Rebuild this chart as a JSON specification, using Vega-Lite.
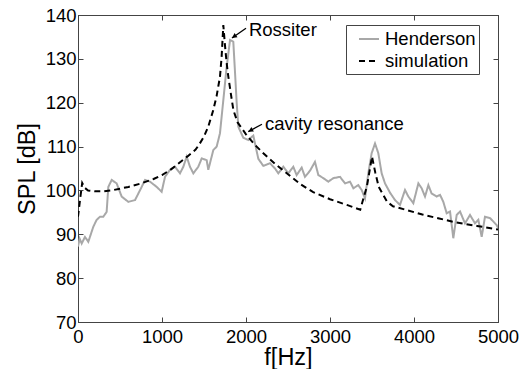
{
  "$schema": "https://vega.github.io/schema/vega-lite/v6.json",
  "width": 420,
  "height": 307,
  "autosize": "none",
  "padding": {"left": 78, "top": 15, "right": 28, "bottom": 47},
  "background": "white",
  "config": {
    "font": "Liberation Sans",
    "view": {"stroke": "#444", "strokeWidth": 1},
    "axis": {
      "grid": false,
      "domainColor": "#444",
      "tickColor": "#444",
      "tickSize": -5,
      "labelFont": "Liberation Sans",
      "labelFontSize": 18.5,
      "labelColor": "black",
      "titleFont": "Liberation Sans",
      "titleFontSize": 23.5,
      "titleFontWeight": "normal",
      "titleColor": "black"
    },
    "legend": {
      "title": null,
      "orient": "none",
      "legendX": 268,
      "legendY": 10,
      "strokeColor": "#444",
      "fillColor": "white",
      "padding": 3,
      "symbolType": "stroke",
      "symbolSize": 400,
      "symbolStrokeWidth": 2,
      "symbolOffset": 9,
      "labelFontSize": 18.5,
      "labelFont": "Liberation Sans",
      "labelColor": "black",
      "labelOffset": 5,
      "rowPadding": 1
    }
  },
  "layer": [
    {
      "data": {
        "values": [
          {"f": 0, "v": 87.2, "s": "Henderson"},
          {"f": 20, "v": 89, "s": "Henderson"},
          {"f": 44, "v": 87.9, "s": "Henderson"},
          {"f": 83, "v": 89.4, "s": "Henderson"},
          {"f": 123, "v": 88.3, "s": "Henderson"},
          {"f": 182, "v": 91.7, "s": "Henderson"},
          {"f": 222, "v": 93.3, "s": "Henderson"},
          {"f": 262, "v": 94, "s": "Henderson"},
          {"f": 301, "v": 94, "s": "Henderson"},
          {"f": 341, "v": 95.1, "s": "Henderson"},
          {"f": 361, "v": 100.8, "s": "Henderson"},
          {"f": 401, "v": 102.4, "s": "Henderson"},
          {"f": 460, "v": 101.6, "s": "Henderson"},
          {"f": 520, "v": 98.6, "s": "Henderson"},
          {"f": 599, "v": 97.4, "s": "Henderson"},
          {"f": 679, "v": 97.8, "s": "Henderson"},
          {"f": 758, "v": 100.8, "s": "Henderson"},
          {"f": 798, "v": 102.4, "s": "Henderson"},
          {"f": 857, "v": 102, "s": "Henderson"},
          {"f": 937, "v": 100.8, "s": "Henderson"},
          {"f": 996, "v": 99.7, "s": "Henderson"},
          {"f": 1036, "v": 103.1, "s": "Henderson"},
          {"f": 1095, "v": 104.7, "s": "Henderson"},
          {"f": 1155, "v": 105.4, "s": "Henderson"},
          {"f": 1214, "v": 103.9, "s": "Henderson"},
          {"f": 1254, "v": 105.4, "s": "Henderson"},
          {"f": 1294, "v": 107.7, "s": "Henderson"},
          {"f": 1333, "v": 105.4, "s": "Henderson"},
          {"f": 1373, "v": 103.9, "s": "Henderson"},
          {"f": 1432, "v": 105.4, "s": "Henderson"},
          {"f": 1473, "v": 107.3, "s": "Henderson"},
          {"f": 1532, "v": 106.9, "s": "Henderson"},
          {"f": 1551, "v": 104.7, "s": "Henderson"},
          {"f": 1591, "v": 107.7, "s": "Henderson"},
          {"f": 1611, "v": 109.2, "s": "Henderson"},
          {"f": 1651, "v": 110, "s": "Henderson"},
          {"f": 1690, "v": 113, "s": "Henderson"},
          {"f": 1730, "v": 120.6, "s": "Henderson"},
          {"f": 1770, "v": 128.2, "s": "Henderson"},
          {"f": 1810, "v": 134.3, "s": "Henderson"},
          {"f": 1849, "v": 133.9, "s": "Henderson"},
          {"f": 1869, "v": 127, "s": "Henderson"},
          {"f": 1889, "v": 120, "s": "Henderson"},
          {"f": 1909, "v": 114.5, "s": "Henderson"},
          {"f": 1968, "v": 112, "s": "Henderson"},
          {"f": 2028, "v": 111.5, "s": "Henderson"},
          {"f": 2087, "v": 112.5, "s": "Henderson"},
          {"f": 2147, "v": 107.2, "s": "Henderson"},
          {"f": 2206, "v": 105.6, "s": "Henderson"},
          {"f": 2286, "v": 106.2, "s": "Henderson"},
          {"f": 2345, "v": 105, "s": "Henderson"},
          {"f": 2385, "v": 103.9, "s": "Henderson"},
          {"f": 2444, "v": 105.4, "s": "Henderson"},
          {"f": 2504, "v": 103.9, "s": "Henderson"},
          {"f": 2563, "v": 105.4, "s": "Henderson"},
          {"f": 2603, "v": 103.5, "s": "Henderson"},
          {"f": 2663, "v": 105.2, "s": "Henderson"},
          {"f": 2702, "v": 103.1, "s": "Henderson"},
          {"f": 2762, "v": 104.5, "s": "Henderson"},
          {"f": 2821, "v": 106.5, "s": "Henderson"},
          {"f": 2861, "v": 103.5, "s": "Henderson"},
          {"f": 2921, "v": 102.8, "s": "Henderson"},
          {"f": 2980, "v": 102, "s": "Henderson"},
          {"f": 3040, "v": 102.8, "s": "Henderson"},
          {"f": 3119, "v": 103.1, "s": "Henderson"},
          {"f": 3179, "v": 101.6, "s": "Henderson"},
          {"f": 3238, "v": 102, "s": "Henderson"},
          {"f": 3278, "v": 100.5, "s": "Henderson"},
          {"f": 3337, "v": 101.2, "s": "Henderson"},
          {"f": 3377, "v": 100.1, "s": "Henderson"},
          {"f": 3417, "v": 98.2, "s": "Henderson"},
          {"f": 3456, "v": 103.9, "s": "Henderson"},
          {"f": 3496, "v": 108.5, "s": "Henderson"},
          {"f": 3536, "v": 110.7, "s": "Henderson"},
          {"f": 3575, "v": 108.5, "s": "Henderson"},
          {"f": 3615, "v": 103.9, "s": "Henderson"},
          {"f": 3655, "v": 101.6, "s": "Henderson"},
          {"f": 3714, "v": 99.5, "s": "Henderson"},
          {"f": 3774, "v": 97.8, "s": "Henderson"},
          {"f": 3833, "v": 96.7, "s": "Henderson"},
          {"f": 3893, "v": 100.1, "s": "Henderson"},
          {"f": 3933, "v": 98.6, "s": "Henderson"},
          {"f": 3992, "v": 97.1, "s": "Henderson"},
          {"f": 4052, "v": 101.6, "s": "Henderson"},
          {"f": 4091, "v": 100.5, "s": "Henderson"},
          {"f": 4131, "v": 98.6, "s": "Henderson"},
          {"f": 4171, "v": 101.2, "s": "Henderson"},
          {"f": 4210, "v": 99.3, "s": "Henderson"},
          {"f": 4270, "v": 98.6, "s": "Henderson"},
          {"f": 4310, "v": 99, "s": "Henderson"},
          {"f": 4349, "v": 97.4, "s": "Henderson"},
          {"f": 4389, "v": 94.8, "s": "Henderson"},
          {"f": 4429, "v": 95.2, "s": "Henderson"},
          {"f": 4468, "v": 89.1, "s": "Henderson"},
          {"f": 4508, "v": 94.4, "s": "Henderson"},
          {"f": 4548, "v": 95.2, "s": "Henderson"},
          {"f": 4607, "v": 92.5, "s": "Henderson"},
          {"f": 4667, "v": 94.4, "s": "Henderson"},
          {"f": 4726, "v": 92.5, "s": "Henderson"},
          {"f": 4766, "v": 93.3, "s": "Henderson"},
          {"f": 4806, "v": 89.4, "s": "Henderson"},
          {"f": 4845, "v": 94, "s": "Henderson"},
          {"f": 4905, "v": 93.7, "s": "Henderson"},
          {"f": 4984, "v": 92.1, "s": "Henderson"},
          {"f": 5000, "v": 91.5, "s": "Henderson"},
          {"f": 0, "v": 94, "s": "simulation"},
          {"f": 25, "v": 98, "s": "simulation"},
          {"f": 50, "v": 101.7, "s": "simulation"},
          {"f": 80, "v": 100.6, "s": "simulation"},
          {"f": 120, "v": 100, "s": "simulation"},
          {"f": 200, "v": 99.8, "s": "simulation"},
          {"f": 300, "v": 99.8, "s": "simulation"},
          {"f": 400, "v": 100, "s": "simulation"},
          {"f": 500, "v": 100.4, "s": "simulation"},
          {"f": 600, "v": 100.8, "s": "simulation"},
          {"f": 750, "v": 101.6, "s": "simulation"},
          {"f": 900, "v": 102.6, "s": "simulation"},
          {"f": 1000, "v": 103.5, "s": "simulation"},
          {"f": 1100, "v": 104.7, "s": "simulation"},
          {"f": 1200, "v": 106.2, "s": "simulation"},
          {"f": 1300, "v": 107.7, "s": "simulation"},
          {"f": 1400, "v": 109.3, "s": "simulation"},
          {"f": 1450, "v": 110.7, "s": "simulation"},
          {"f": 1500, "v": 112.3, "s": "simulation"},
          {"f": 1550, "v": 114.5, "s": "simulation"},
          {"f": 1610, "v": 118.3, "s": "simulation"},
          {"f": 1650, "v": 121.5, "s": "simulation"},
          {"f": 1690, "v": 125.9, "s": "simulation"},
          {"f": 1710, "v": 130.5, "s": "simulation"},
          {"f": 1730, "v": 137.7, "s": "simulation"},
          {"f": 1750, "v": 133, "s": "simulation"},
          {"f": 1770, "v": 129, "s": "simulation"},
          {"f": 1790, "v": 125.9, "s": "simulation"},
          {"f": 1820, "v": 122, "s": "simulation"},
          {"f": 1850, "v": 118.3, "s": "simulation"},
          {"f": 1900, "v": 115.5, "s": "simulation"},
          {"f": 2000, "v": 112.8, "s": "simulation"},
          {"f": 2100, "v": 110.5, "s": "simulation"},
          {"f": 2200, "v": 108.6, "s": "simulation"},
          {"f": 2350, "v": 106, "s": "simulation"},
          {"f": 2500, "v": 103.7, "s": "simulation"},
          {"f": 2650, "v": 101.4, "s": "simulation"},
          {"f": 2800, "v": 99.6, "s": "simulation"},
          {"f": 3000, "v": 98, "s": "simulation"},
          {"f": 3200, "v": 96.7, "s": "simulation"},
          {"f": 3360, "v": 95.6, "s": "simulation"},
          {"f": 3440, "v": 101, "s": "simulation"},
          {"f": 3500, "v": 107.7, "s": "simulation"},
          {"f": 3540, "v": 104, "s": "simulation"},
          {"f": 3580, "v": 100.8, "s": "simulation"},
          {"f": 3680, "v": 97.4, "s": "simulation"},
          {"f": 3750, "v": 96.4, "s": "simulation"},
          {"f": 3900, "v": 95.6, "s": "simulation"},
          {"f": 4100, "v": 94.5, "s": "simulation"},
          {"f": 4300, "v": 93.6, "s": "simulation"},
          {"f": 4500, "v": 92.7, "s": "simulation"},
          {"f": 4750, "v": 91.9, "s": "simulation"},
          {"f": 5000, "v": 91.1, "s": "simulation"}
        ]
      },
      "mark": {"type": "line", "strokeWidth": 2, "clip": true},
      "encoding": {
        "x": {
          "field": "f", "type": "quantitative",
          "scale": {"domain": [0, 5000], "nice": false},
          "axis": {"title": "f[Hz]", "format": "d", "values": [0, 1000, 2000, 3000, 4000, 5000], "labelPadding": 10, "titlePadding": 0, "labelFlush": false}
        },
        "y": {
          "field": "v", "type": "quantitative",
          "scale": {"domain": [70, 140], "nice": false, "zero": false},
          "axis": {"title": "SPL [dB]", "format": "d", "values": [70, 80, 90, 100, 110, 120, 130, 140], "labelPadding": 7, "titlePadding": 6}
        },
        "color": {
          "field": "s", "type": "nominal",
          "scale": {"domain": ["Henderson", "simulation"], "range": ["#a8a8a8", "#000000"]},
          "legend": {"title": null}
        },
        "strokeDash": {
          "field": "s", "type": "nominal",
          "scale": {"domain": ["Henderson", "simulation"], "range": [[1, 0], [6, 4]]},
          "legend": {"title": null}
        }
      }
    },
    {
      "data": {
        "values": [
          {"f": 2035, "v": 136.6, "t": "Rossiter"},
          {"f": 2226, "v": 115.1, "t": "cavity resonance"}
        ]
      },
      "mark": {"type": "text", "align": "left", "baseline": "middle", "fontSize": 18.5, "font": "Liberation Sans", "color": "black"},
      "encoding": {
        "x": {"field": "f", "type": "quantitative", "axis": {"orient": "top", "labels": false, "title": null, "values": [0, 1000, 2000, 3000, 4000, 5000]}},
        "y": {"field": "v", "type": "quantitative", "axis": {"orient": "right", "labels": false, "title": null, "values": [70, 80, 90, 100, 110, 120, 130, 140]}},
        "text": {"field": "t", "type": "nominal"}
      }
    },
    {
      "data": {
        "values": [
          {"f": 2000, "v": 137, "f2": 1833, "v2": 134.75, "a": 234.5},
          {"f": 2190, "v": 115.1, "f2": 2027, "v2": 113.4, "a": 240.6}
        ]
      },
      "layer": [
        {
          "mark": {"type": "rule", "strokeWidth": 1.3, "color": "black"},
          "encoding": {
            "x": {"field": "f", "type": "quantitative", "axis": null},
            "y": {"field": "v", "type": "quantitative", "axis": null},
            "x2": {"field": "f2"},
            "y2": {"field": "v2"}
          }
        },
        {
          "mark": {"type": "point", "shape": "M-0.5,1L0,0L0.5,1Z", "filled": true, "color": "black", "size": 100, "opacity": 1},
          "encoding": {
            "x": {"field": "f2", "type": "quantitative", "axis": null},
            "y": {"field": "v2", "type": "quantitative", "axis": null},
            "angle": {"field": "a", "type": "quantitative", "scale": null}
          }
        }
      ]
    }
  ],
  "resolve": {"axis": {"x": "independent", "y": "independent"}}
}
